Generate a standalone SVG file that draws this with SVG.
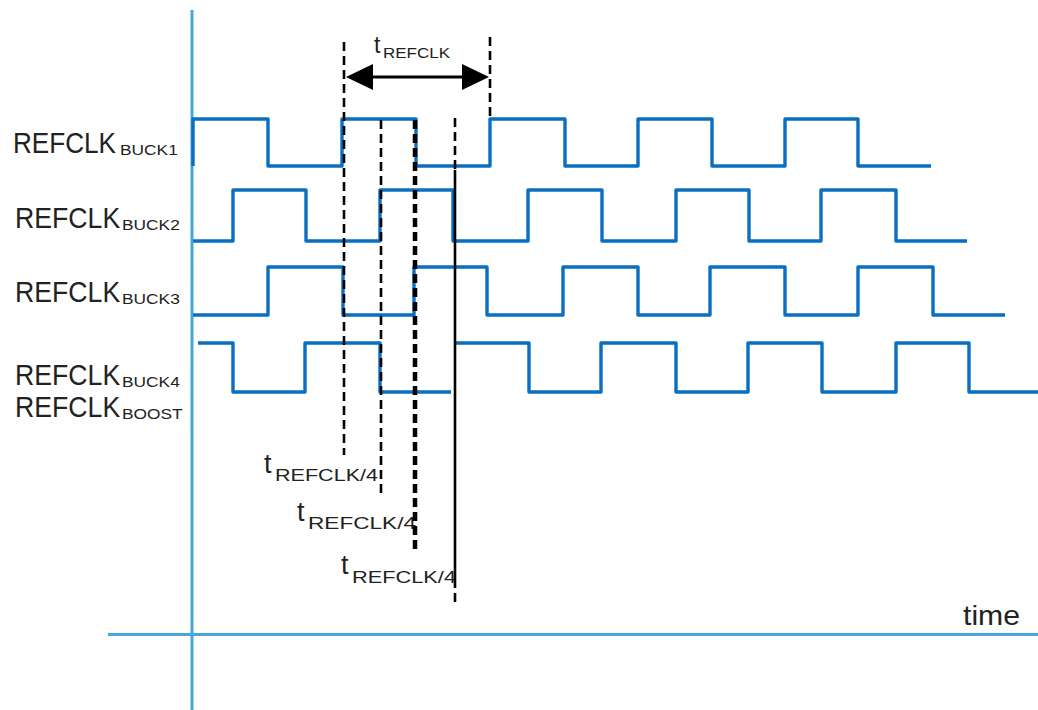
<svg xmlns="http://www.w3.org/2000/svg" width="1038" height="710" viewBox="0 0 1038 710">
<style>
.axis{stroke:#45a7dc;stroke-width:3;fill:none}
.wave{stroke:#0a6fc0;stroke-width:3.4;fill:none;stroke-linejoin:round}
.dash{stroke:#000;stroke-width:2.6;stroke-dasharray:9,5;fill:none}
.dashb{stroke:#000;stroke-width:4.5;stroke-dasharray:9,5;fill:none}
.solid{stroke:#000;stroke-width:2.6;fill:none}
.lbl{font-family:"Liberation Sans",Arial,sans-serif;fill:#222}
.main{font-size:29px}
.sub{font-size:14px}
</style>
<rect width="1038" height="710" fill="#fff"/>
<g id="axes">
<line class="axis" x1="192" y1="10" x2="192" y2="710"/>
<line class="axis" x1="108" y1="634.5" x2="1038" y2="634.5"/>
</g>
<g id="wave-buck1"><path class="wave" d="M193,166 V119 H268 V166 H342 V119 H416 V166 H490 V119 H565 V166 H638 V119 H712 V166 H785 V119 H858 V166 H931"/></g>
<g id="wave-buck2"><path class="wave" d="M193,241 H233 V190 H306 V241 H380 V190 H453 V241 H528 V190 H602 V241 H676 V190 H749 V241 H821 V190 H896 V241 H967"/></g>
<g id="wave-buck3"><path class="wave" d="M193,315 H268 V267 H343 V315 H414 V267 H487 V315 H563 V267 H638 V315 H710 V267 H785 V315 H858 V267 H933 V315 H1005"/></g>
<g id="wave-buck4"><path class="wave" d="M198,343 H233 V392 H305 V343 H380 V392 H451 M456,343 H529 V392 H601 V343 H676 V392 H748 V343 H822 V392 H896 V343 H969 V392 H1038"/></g>
<g id="labels" class="lbl">
<g id="label-buck1"><text class="main" transform="translate(13,153) scale(0.9,1)" font-size="30">REFCLK</text><text class="sub" transform="translate(120,155) scale(1.24,1)">BUCK1</text></g>
<g id="label-buck2"><text class="main" transform="translate(15,228) scale(0.92,1)">REFCLK</text><text class="sub" transform="translate(122,230) scale(1.24,1)">BUCK2</text></g>
<g id="label-buck3"><text class="main" transform="translate(15,302) scale(0.92,1)">REFCLK</text><text class="sub" transform="translate(122,304) scale(1.24,1)">BUCK3</text></g>
<g id="label-buck4"><text class="main" transform="translate(15,385) scale(0.92,1)">REFCLK</text><text class="sub" transform="translate(122,387) scale(1.24,1)">BUCK4</text></g>
<g id="label-boost"><text class="main" transform="translate(15,417) scale(0.92,1)">REFCLK</text><text class="sub" transform="translate(122,419) scale(1.24,1)">BOOST</text></g>
<g id="label-trefclk"><text x="374" y="53" font-size="23">t</text><text x="383" y="58" font-size="14" textLength="67" lengthAdjust="spacingAndGlyphs">REFCLK</text></g>
<g id="label-tq1"><text x="264" y="473" font-size="27">t</text><text x="275" y="481" font-size="17" textLength="103" lengthAdjust="spacingAndGlyphs">REFCLK/4</text></g>
<g id="label-tq2"><text x="297" y="521" font-size="27">t</text><text x="308" y="529" font-size="17" textLength="108" lengthAdjust="spacingAndGlyphs">REFCLK/4</text></g>
<g id="label-tq3"><text x="341" y="574" font-size="27">t</text><text x="352" y="583" font-size="17" textLength="104" lengthAdjust="spacingAndGlyphs">REFCLK/4</text></g>
<g id="label-time"><text x="963" y="625" font-size="28" textLength="57" lengthAdjust="spacingAndGlyphs">time</text></g>
</g>
<g id="connectors">
<line class="dash" x1="344" y1="42" x2="344" y2="455"/>
<line class="dash" x1="381" y1="120" x2="381" y2="498"/>
<line class="dashb" x1="415" y1="120" x2="415" y2="551"/>
<line class="dash" x1="455" y1="118" x2="455" y2="170"/>
<line class="solid" x1="455" y1="170" x2="455" y2="588"/>
<line class="dash" x1="455" y1="593" x2="455" y2="607"/>
<line class="dash" x1="490" y1="37" x2="490" y2="118"/>
<g id="arrow-trefclk">
<line x1="370" y1="77" x2="465" y2="77" stroke="#000" stroke-width="3.2"/>
<polygon points="346,77 373,64 373,90" fill="#000"/>
<polygon points="489,77 462,64 462,90" fill="#000"/>
</g>
</g>
</svg>
